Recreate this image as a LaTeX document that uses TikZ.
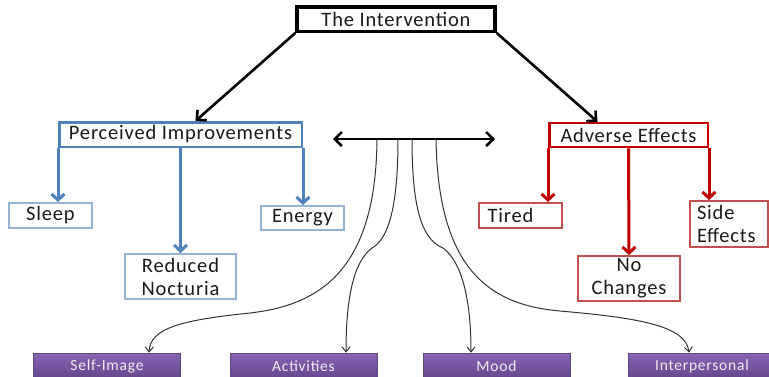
\documentclass[tikz,border=0pt]{standalone}
\usepackage{fontspec}
\setmainfont{Carlito}[LetterSpace=4]
\newfontfamily\themefont{Carlito}[LetterSpace=5]
\usetikzlibrary{arrows.meta,calc}
\definecolor{pblue}{HTML}{4F81BD}
\definecolor{lblue}{HTML}{95B3D7}
\definecolor{dred}{HTML}{C00000}
\definecolor{lred}{HTML}{C0504D}
\definecolor{ptop}{HTML}{8866B2}
\definecolor{pbot}{HTML}{63468E}
\definecolor{txt}{HTML}{1A1A1A}
\begin{document}
\begin{tikzpicture}[x=1pt,y=-1pt,
  every node/.style={font=\fontsize{20.5}{23}\selectfont, text=txt, inner sep=0pt, align=center},
  topbox/.style={draw=black, line width=3.5pt, minimum width=198pt, minimum height=24.5pt},
  headblue/.style={draw=pblue, line width=2.5pt},
  leafblue/.style={draw=lblue, line width=2pt, fill=white},
  headred/.style={draw=dred, line width=2.5pt},
  leafred/.style={draw=lred, line width=2pt, fill=white},
  theme/.style={top color=ptop, bottom color=pbot, draw=ptop!70!black, line width=0.6pt,
     text=white!93!black, font=\themefont\fontsize{15.5}{17}\selectfont, minimum width=147pt, minimum height=26pt},
  bluearrow/.style={draw=pblue, line width=3pt, -{Straight Barb[length=6pt,width=13pt]}},
  redarrow/.style={draw=dred, line width=3pt, -{Straight Barb[length=6pt,width=13pt]}},
  blackarrow/.style={draw=black, line width=2.6pt, -{Straight Barb[length=7pt,width=14pt]}},
  dblarrow/.style={draw=black, line width=2.6pt, {Straight Barb[length=7pt,width=14pt]}-{Straight Barb[length=7pt,width=14pt]}},
  thincurve/.style={draw=black!80, line width=1pt, -{Straight Barb[length=5pt,width=8pt]}}
]
\useasboundingbox (0,0) rectangle (769,376);
\fill[white] (0,0) rectangle (769,376);

% top
\node[topbox] (top) at (396,19) {The Intervention};

% blue branch
\node[headblue, minimum width=242.5pt, minimum height=24.5pt] (perc) at (180.5,134.5) {Perceived Improvements};
\node[leafblue, minimum width=83pt, minimum height=25pt] (sleep) at (50.5,215.5) {Sleep};
\node[leafblue, minimum width=83pt, minimum height=24pt] (energy) at (302.5,218) {Energy};
\node[leafblue, minimum width=111pt, minimum height=45pt] (noct) at (180.5,276.5) {Reduced\\Nocturia};

% red branch
\node[headred, minimum width=158.5pt, minimum height=24pt] (adv) at (628.5,135) {Adverse Effects};
\node[leafred, minimum width=83pt, minimum height=25pt, text width=66pt, align=left, inner xsep=8.5pt] (tired) at (520.5,215.5) {Tired};
\node[leafred, minimum width=102pt, minimum height=45pt] (noch) at (629,278.5) {No\\Changes};
\node[leafred, minimum width=76pt, minimum height=46pt, text width=64pt, align=left, inner xsep=7pt] (side) at (729,224) {Side\\Effects};

% themes
\node[theme] (self) at (107,366) {Self-Image};
\node[theme] (act) at (303.5,366) {Activities};
\node[theme] (mood) at (496.5,366) {Mood};
\node[theme] (inter) at (702,366) {Interpersonal};

% top arrows
\draw[blackarrow] (top.south west) -- ([xshift=15pt]perc.north);
\draw[blackarrow] (top.south east) -- ([xshift=-31pt]adv.north);

% blue arrows
\draw[bluearrow] (perc.south west) -- (perc.south west |- sleep.north);
\draw[bluearrow] (perc.south) -- (noct.north);
\draw[bluearrow] (perc.south east) -- (perc.south east |- energy.north);

% red arrows
\draw[redarrow] (adv.south west) -- (adv.south west |- tired.north);
\draw[redarrow] (adv.south) -- (noch.north);
\draw[redarrow] (adv.south east) -- (adv.south east |- side.north);

% double arrow
\coordinate (hl) at (333,139);
\coordinate (hr) at (495,139);
\draw[dblarrow] (hl) -- (hr);
\coordinate (c1) at (377,139);
\coordinate (c2) at (398,139);
\coordinate (c3) at (412,139);
\coordinate (c4) at (436,139);

% curves
\draw[thincurve] (c1) .. controls (376,270) and (320,305) .. (250,313)
   .. controls (182,320) and (150,328) .. ([xshift=42pt]self.north);
\draw[thincurve] (c2) .. controls (398,215) and (386,240) .. (372,248)
   .. controls (353,262) and (346,300) .. ([xshift=42.5pt]act.north);
\draw[thincurve] (c3) .. controls (412,215) and (424,240) .. (443,248)
   .. controls (462,262) and (471,300) .. ([xshift=-25.5pt]mood.north);
\draw[thincurve] (c4) .. controls (438,270) and (490,305) .. (560,311)
   .. controls (640,318) and (686,326) .. ([xshift=-13pt]inter.north);
\end{tikzpicture}
\end{document}
